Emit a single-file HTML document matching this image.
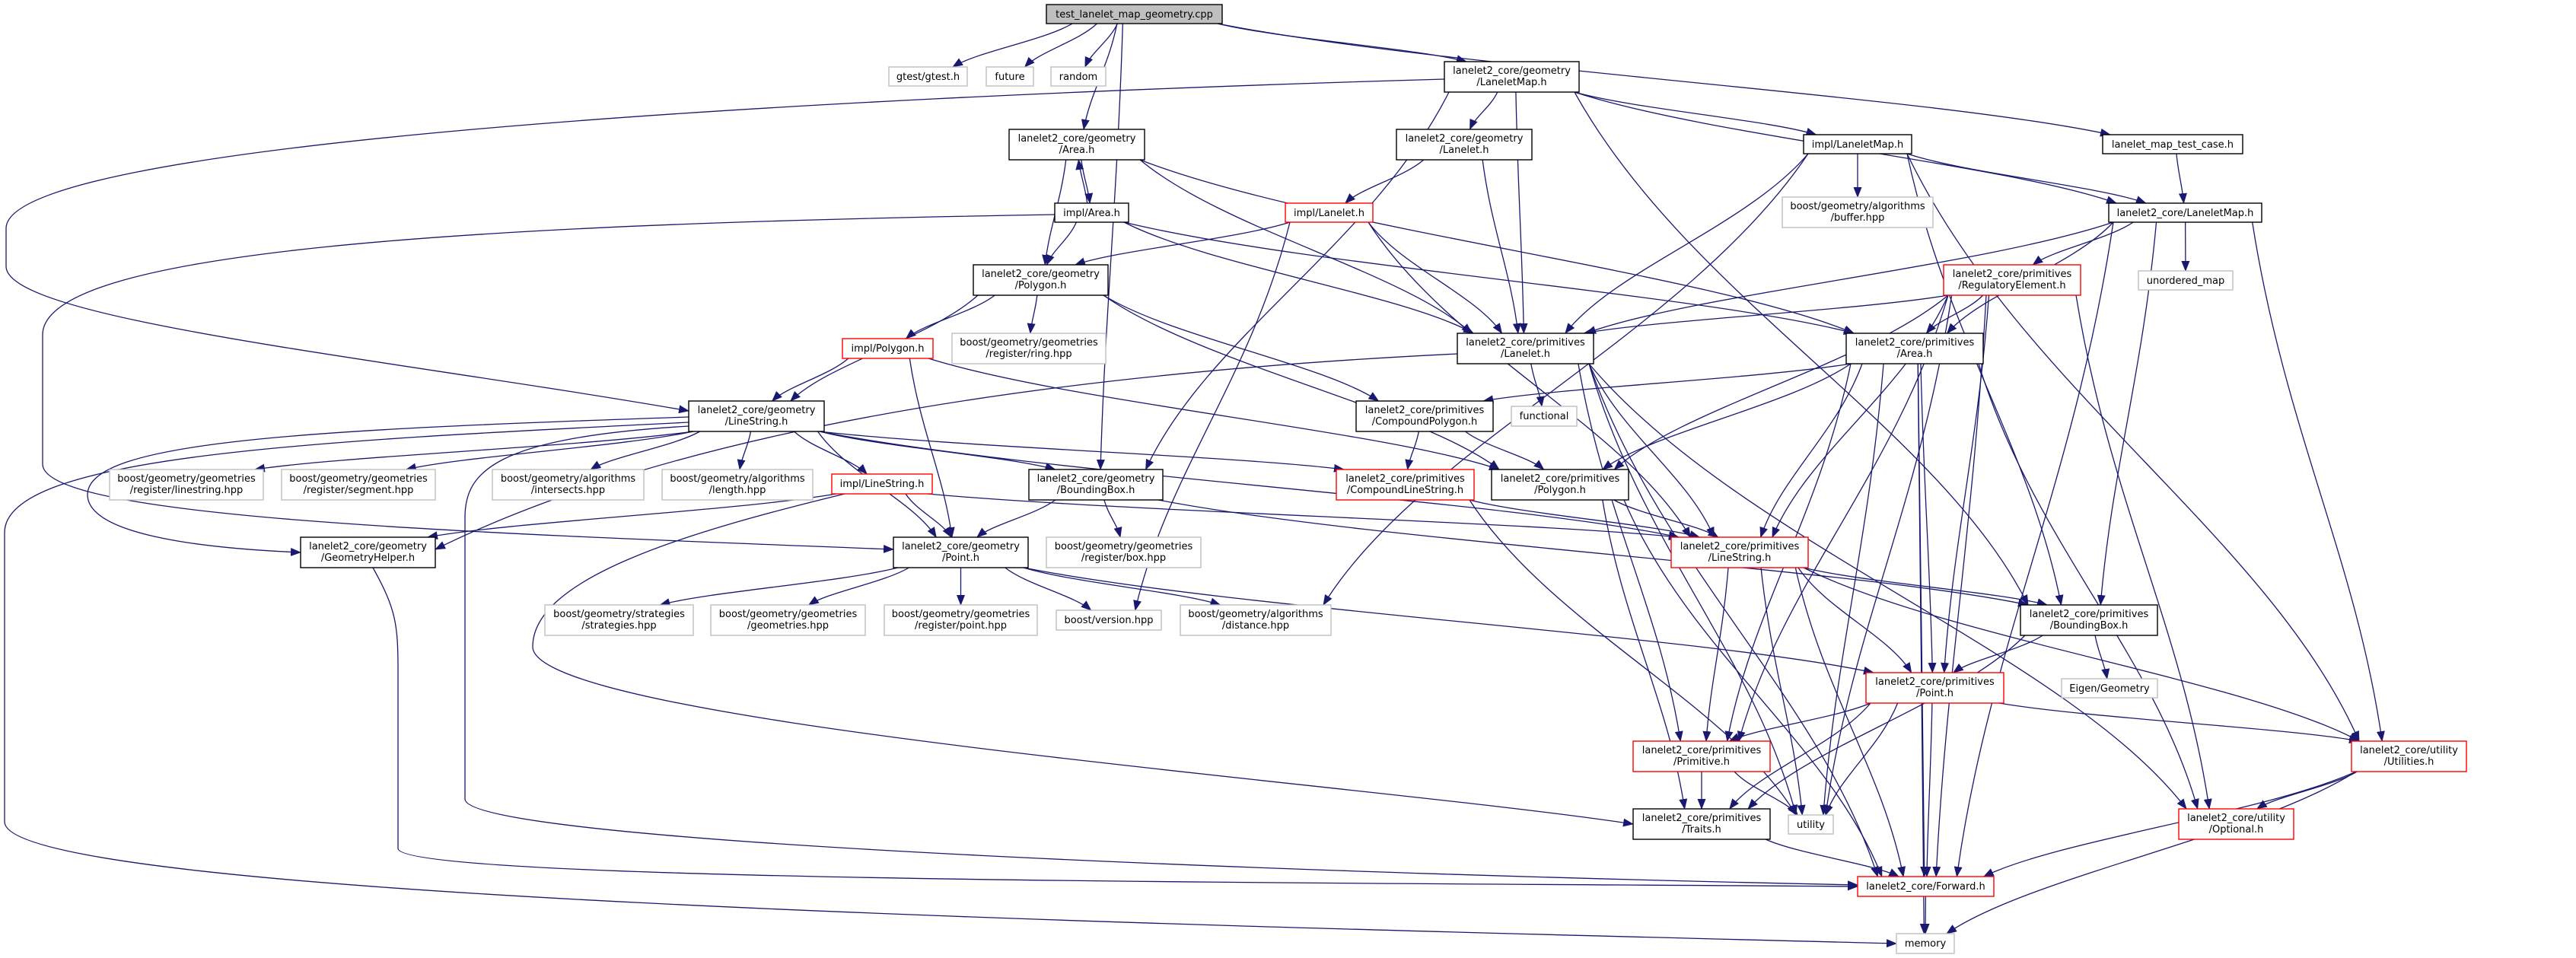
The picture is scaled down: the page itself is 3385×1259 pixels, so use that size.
<!DOCTYPE html>
<html><head><meta charset="utf-8">
<style>
html,body{margin:0;padding:0;background:#fff;}
svg{display:block;}
text{font-family:"DejaVu Sans","Liberation Sans",sans-serif;font-size:13px;fill:#000;text-anchor:middle;}
.b rect{fill:#fff;stroke:#000;stroke-width:1.4;}
.g rect{fill:#fff;stroke:#bfbfbf;stroke-width:1.4;}
.r rect{fill:#fff;stroke:#ff0000;stroke-width:1.4;}
#edges path{fill:none;stroke:#191970;stroke-width:1.3;}
</style></head><body>
<svg id="s" width="3385" height="1259" viewBox="0 0 3385 1259" xmlns="http://www.w3.org/2000/svg">
<defs><marker id="a" markerUnits="userSpaceOnUse" markerWidth="14" markerHeight="11" refX="13" refY="5.5" orient="auto"><path d="M0,0 L14,5.5 L0,11z" fill="#191970"/></marker></defs>
<g id="edges">
<path marker-end="url(#a)" d="M1898,104 C1000,130 8,190 8,300 L8,350 C8,420 500,470 905,540"/>
<path marker-end="url(#a)" d="M1386,282 C600,295 56,330 56,440 L56,610 C56,680 600,700 1174,722"/>
<path marker-end="url(#a)" d="M905,555 C400,580 6,600 6,700 L6,1080 C6,1180 1500,1215 2492,1240"/>
<path marker-end="url(#a)" d="M905,548 C400,565 115,580 115,650 C115,700 250,720 395,726"/>
<path marker-end="url(#a)" d="M490,746 C520,800 523,820 523,880 L523,1115 C523,1160 1800,1160 2441,1165"/>
<path marker-end="url(#a)" d="M905,560 C650,575 611,620 611,680 L611,1050 C611,1110 1800,1150 2441,1163"/>
<path marker-end="url(#a)" d="M1915,465 C1400,490 900,560 572,722"/>
<path marker-end="url(#a)" d="M1110,649 C900,700 700,760 700,850 C700,950 1800,1030 2146,1083"/>
</g>
<g class="b"><rect x="1375" y="6" width="231" height="25" style="fill:#bfbfbf"/><text x="1490.5" y="23">test_lanelet_map_geometry.cpp</text></g>
<g class="g"><rect x="1168" y="88" width="103" height="25"/><text x="1219.5" y="105">gtest/gtest.h</text></g>
<g class="g"><rect x="1296" y="88" width="62" height="25"/><text x="1327" y="105">future</text></g>
<g class="g"><rect x="1381" y="88" width="72" height="25"/><text x="1417" y="105">random</text></g>
<g class="b"><rect x="1898" y="81" width="177" height="40"/><text x="1986.5" y="97">lanelet2_core/geometry</text><text x="1986.5" y="112">/LaneletMap.h</text></g>
<g class="b"><rect x="1326" y="170" width="178" height="40"/><text x="1415" y="186">lanelet2_core/geometry</text><text x="1415" y="201">/Area.h</text></g>
<g class="b"><rect x="1835" y="170" width="178" height="40"/><text x="1924" y="186">lanelet2_core/geometry</text><text x="1924" y="201">/Lanelet.h</text></g>
<g class="b"><rect x="2370" y="177" width="142" height="25"/><text x="2441" y="194">impl/LaneletMap.h</text></g>
<g class="b"><rect x="2763" y="177" width="184" height="25"/><text x="2855" y="194">lanelet_map_test_case.h</text></g>
<g class="b"><rect x="1386" y="267" width="97" height="25"/><text x="1434.5" y="284">impl/Area.h</text></g>
<g class="r"><rect x="1689" y="267" width="115" height="25"/><text x="1746.5" y="284">impl/Lanelet.h</text></g>
<g class="b"><rect x="2771" y="267" width="201" height="25"/><text x="2871.5" y="284">lanelet2_core/LaneletMap.h</text></g>
<g class="g"><rect x="2342" y="259" width="198" height="40"/><text x="2441" y="275">boost/geometry/algorithms</text><text x="2441" y="290">/buffer.hpp</text></g>
<g class="b"><rect x="1279" y="348" width="177" height="40"/><text x="1367.5" y="364">lanelet2_core/geometry</text><text x="1367.5" y="379">/Polygon.h</text></g>
<g class="r"><rect x="2554" y="348" width="180" height="40"/><text x="2644" y="364">lanelet2_core/primitives</text><text x="2644" y="379">/RegulatoryElement.h</text></g>
<g class="g"><rect x="2810" y="356" width="124" height="25"/><text x="2872" y="373">unordered_map</text></g>
<g class="r"><rect x="1107" y="445" width="119" height="26"/><text x="1166.5" y="462">impl/Polygon.h</text></g>
<g class="g"><rect x="1251" y="438" width="202" height="40"/><text x="1352" y="454">boost/geometry/geometries</text><text x="1352" y="469">/register/ring.hpp</text></g>
<g class="b"><rect x="1915" y="438" width="179" height="40"/><text x="2004.5" y="454">lanelet2_core/primitives</text><text x="2004.5" y="469">/Lanelet.h</text></g>
<g class="b"><rect x="2426" y="438" width="180" height="40"/><text x="2516" y="454">lanelet2_core/primitives</text><text x="2516" y="469">/Area.h</text></g>
<g class="b"><rect x="905" y="527" width="178" height="40"/><text x="994" y="543">lanelet2_core/geometry</text><text x="994" y="558">/LineString.h</text></g>
<g class="b"><rect x="1782" y="527" width="180" height="40"/><text x="1872" y="543">lanelet2_core/primitives</text><text x="1872" y="558">/CompoundPolygon.h</text></g>
<g class="g"><rect x="1986" y="534" width="86" height="26"/><text x="2029" y="551">functional</text></g>
<g class="g"><rect x="144" y="617" width="202" height="40"/><text x="245" y="633">boost/geometry/geometries</text><text x="245" y="648">/register/linestring.hpp</text></g>
<g class="g"><rect x="370" y="617" width="202" height="40"/><text x="471" y="633">boost/geometry/geometries</text><text x="471" y="648">/register/segment.hpp</text></g>
<g class="g"><rect x="647" y="617" width="199" height="40"/><text x="746.5" y="633">boost/geometry/algorithms</text><text x="746.5" y="648">/intersects.hpp</text></g>
<g class="g"><rect x="870" y="617" width="198" height="40"/><text x="969" y="633">boost/geometry/algorithms</text><text x="969" y="648">/length.hpp</text></g>
<g class="r"><rect x="1093" y="623" width="132" height="26"/><text x="1159" y="640">impl/LineString.h</text></g>
<g class="b"><rect x="1352" y="617" width="176" height="40"/><text x="1440" y="633">lanelet2_core/geometry</text><text x="1440" y="648">/BoundingBox.h</text></g>
<g class="r"><rect x="1756" y="617" width="181" height="40"/><text x="1846.5" y="633">lanelet2_core/primitives</text><text x="1846.5" y="648">/CompoundLineString.h</text></g>
<g class="b"><rect x="1960" y="617" width="180" height="40"/><text x="2050" y="633">lanelet2_core/primitives</text><text x="2050" y="648">/Polygon.h</text></g>
<g class="b"><rect x="395" y="706" width="177" height="40"/><text x="483.5" y="722">lanelet2_core/geometry</text><text x="483.5" y="737">/GeometryHelper.h</text></g>
<g class="b"><rect x="1174" y="706" width="177" height="40"/><text x="1262.5" y="722">lanelet2_core/geometry</text><text x="1262.5" y="737">/Point.h</text></g>
<g class="g"><rect x="1375" y="706" width="203" height="40"/><text x="1476.5" y="722">boost/geometry/geometries</text><text x="1476.5" y="737">/register/box.hpp</text></g>
<g class="r"><rect x="2196" y="706" width="180" height="40"/><text x="2286" y="722">lanelet2_core/primitives</text><text x="2286" y="737">/LineString.h</text></g>
<g class="g"><rect x="716" y="795" width="195" height="40"/><text x="813.5" y="811">boost/geometry/strategies</text><text x="813.5" y="826">/strategies.hpp</text></g>
<g class="g"><rect x="934" y="795" width="203" height="40"/><text x="1035.5" y="811">boost/geometry/geometries</text><text x="1035.5" y="826">/geometries.hpp</text></g>
<g class="g"><rect x="1162" y="795" width="201" height="40"/><text x="1262.5" y="811">boost/geometry/geometries</text><text x="1262.5" y="826">/register/point.hpp</text></g>
<g class="g"><rect x="1388" y="802" width="138" height="26"/><text x="1457" y="819">boost/version.hpp</text></g>
<g class="g"><rect x="1551" y="795" width="198" height="40"/><text x="1650" y="811">boost/geometry/algorithms</text><text x="1650" y="826">/distance.hpp</text></g>
<g class="b"><rect x="2655" y="795" width="180" height="40"/><text x="2745" y="811">lanelet2_core/primitives</text><text x="2745" y="826">/BoundingBox.h</text></g>
<g class="r"><rect x="2452" y="884" width="181" height="40"/><text x="2542.5" y="900">lanelet2_core/primitives</text><text x="2542.5" y="915">/Point.h</text></g>
<g class="g"><rect x="2709" y="892" width="126" height="25"/><text x="2772" y="909">Eigen/Geometry</text></g>
<g class="r"><rect x="2146" y="974" width="180" height="40"/><text x="2236" y="990">lanelet2_core/primitives</text><text x="2236" y="1005">/Primitive.h</text></g>
<g class="r"><rect x="3090" y="974" width="151" height="40"/><text x="3165.5" y="990">lanelet2_core/utility</text><text x="3165.5" y="1005">/Utilities.h</text></g>
<g class="b"><rect x="2146" y="1063" width="180" height="40"/><text x="2236" y="1079">lanelet2_core/primitives</text><text x="2236" y="1094">/Traits.h</text></g>
<g class="g"><rect x="2350" y="1071" width="59" height="25"/><text x="2379.5" y="1088">utility</text></g>
<g class="r"><rect x="2863" y="1063" width="151" height="40"/><text x="2938.5" y="1079">lanelet2_core/utility</text><text x="2938.5" y="1094">/Optional.h</text></g>
<g class="r"><rect x="2441" y="1152" width="179" height="26"/><text x="2530.5" y="1169">lanelet2_core/Forward.h</text></g>
<g class="g"><rect x="2492" y="1227" width="76" height="26"/><text x="2530" y="1244">memory</text></g>
</svg>
<script>
var N={root:[1375,6,231,25],gtest:[1168,88,103,25],future:[1296,88,62,25],random:[1381,88,72,25],
gLM:[1898,81,177,40],gArea:[1326,170,178,40],gLanelet:[1835,170,178,40],iLM:[2370,177,142,25],testcase:[2763,177,184,25],
iArea:[1386,267,97,25],iLanelet:[1689,267,115,25],cLM:[2771,267,201,25],buffer:[2342,259,198,40],
gPolygon:[1279,348,177,40],RegElem:[2554,348,180,40],unordered:[2810,356,124,25],
iPolygon:[1107,445,119,26],ring:[1251,438,202,40],pLanelet:[1915,438,179,40],pArea:[2426,438,180,40],
gLS:[905,527,178,40],cPoly:[1782,527,180,40],functional:[1986,534,86,26],
regls:[144,617,202,40],regseg:[370,617,202,40],intersects:[647,617,199,40],length:[870,617,198,40],
iLS:[1093,623,132,26],gBB:[1352,617,176,40],cLS:[1756,617,181,40],pPoly:[1960,617,180,40],
gHelper:[395,706,177,40],gPoint:[1174,706,177,40],regbox:[1375,706,203,40],pLS:[2196,706,180,40],
strategies:[716,795,195,40],geometries:[934,795,203,40],regpoint:[1162,795,201,40],version:[1388,802,138,26],
distance:[1551,795,198,40],pBB:[2655,795,180,40],pPoint:[2452,884,181,40],eigen:[2709,892,126,25],
primitive:[2146,974,180,40],utilities:[3090,974,151,40],traits:[2146,1063,180,40],utility:[2350,1071,59,25],
optional:[2863,1063,151,40],forward:[2441,1152,179,26],memory:[2492,1227,76,26]};
var E=[
"root gtest","root future","root random","root gArea","root gBB","root gLM","root testcase",
"gLM gLanelet","gLM iLM","gLM cLM","gLM pLanelet","gLM gBB","gLM pBB",
"gArea iArea","gArea gPolygon","gArea pLanelet","gArea pArea",
"iArea gArea","iArea gPolygon","iArea pLanelet","iArea pArea",
"gLanelet iLanelet","gLanelet pLanelet",
"iLanelet gPolygon","iLanelet pLanelet","iLanelet version","iLanelet pLS",
"iLM pLanelet","iLM distance","iLM buffer","iLM cLM","iLM pBB","iLM utilities",
"testcase cLM",
"cLM RegElem","cLM unordered","cLM pLanelet","cLM pArea","cLM pBB","cLM utilities","cLM forward",
"gPolygon gLS","gPolygon iPolygon","gPolygon ring","gPolygon cPoly","gPolygon pPoly",
"RegElem pLanelet","RegElem pArea","RegElem pPoly","RegElem pLS","RegElem pPoint","RegElem primitive","RegElem utility","RegElem optional","RegElem forward",
"iPolygon gLS","iPolygon gPoint","iPolygon pPoly",
"pLanelet functional","pLanelet pLS","pLanelet primitive","pLanelet forward","pLanelet utility","pLanelet optional",
"pArea cPoly","pArea pPoly","pArea pLS","pArea pPoint","pArea primitive","pArea utility","pArea optional","pArea forward","pArea memory",
"gLS regls","gLS regseg","gLS intersects","gLS length","gLS iLS","gLS gBB","gLS gPoint","gLS cLS","gLS pLS",
"cPoly cLS","cPoly pPoly",
"iLS gHelper","iLS gPoint","iLS pLS",
"gBB gPoint","gBB regbox","gBB pBB",
"cLS pLS","cLS utility",
"pPoly pLS","pPoly traits","pPoly forward",
"gPoint strategies","gPoint geometries","gPoint regpoint","gPoint version","gPoint distance","gPoint pPoint",
"pLS primitive","pLS pPoint","pLS pBB","pLS utility","pLS utilities","pLS forward",
"pBB pPoint","pBB traits","pBB eigen",
"pPoint primitive","pPoint traits","pPoint utility","pPoint forward","pPoint utilities",
"primitive traits","primitive utility",
"utilities optional","utilities forward","utilities memory",
"traits forward","forward memory"];
function cl(v,m){return Math.max(-m,Math.min(m,v));}
var g=document.getElementById("edges"),ns="http://www.w3.org/2000/svg";
E.forEach(function(e){var p=e.split(" "),s=N[p[0]],t=N[p[1]];
var scx=s[0]+s[2]/2,tcx=t[0]+t[2]/2,x1,y1,x2,y2;
if(t[1]>=s[1]+s[3]){y1=s[1]+s[3];y2=t[1];}else{y1=s[1];y2=t[1]+t[3];}
x1=scx+cl((tcx-scx)*0.3,s[2]/2-6);x2=tcx+cl((scx-tcx)*0.12,t[2]/2-10);
var dx=x2-x1,dy=y2-y1;
var d="M"+x1+","+y1+" C"+(x1+dx*0.25)+","+(y1+dy*0.4)+" "+(x1+dx*0.8)+","+(y1+dy*0.65)+" "+x2+","+y2;
var el=document.createElementNS(ns,"path");el.setAttribute("d",d);el.setAttribute("marker-end","url(#a)");g.appendChild(el);});
</script>
</body></html>
